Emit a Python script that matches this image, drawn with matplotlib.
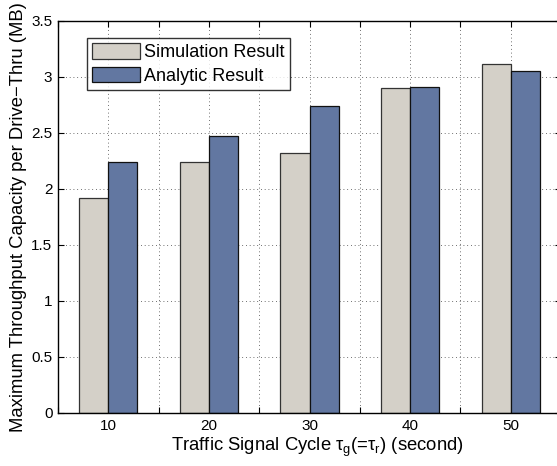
import matplotlib
matplotlib.use("Agg")
import matplotlib.pyplot as plt
import numpy as np

cycles = [10, 20, 30, 40, 50]
sim_result = [1.92, 2.24, 2.32, 2.90, 3.12]
analytic_result = [2.24, 2.47, 2.74, 2.91, 3.05]
xtick_positions = [5, 10, 15, 20, 25, 30, 35, 40, 45, 50, 55]
xtick_labels = ["", "10", "", "20", "", "30", "", "40", "", "50", ""]
ytick_positions = [0, 0.5, 1, 1.5, 2, 2.5, 3, 3.5]
ytick_labels = ["0", "0.5", "1", "1.5", "2", "2.5", "3", "3.5"]

plt.rcParams['font.family'] = ['Liberation Sans', 'DejaVu Sans']
plt.rcParams['mathtext.fontset'] = 'custom'
plt.rcParams['mathtext.rm'] = 'Liberation Sans'
plt.rcParams['mathtext.it'] = 'Liberation Sans'

fig = plt.figure(figsize=(5.57, 4.66), dpi=100)
ax = fig.add_axes([58/557, 1-413/466, 503/557, (413-21)/466])

w = 2.9
x = np.array(cycles, dtype=float)
ax.bar(x - w/2, sim_result, width=w, color='#d4d0c8', edgecolor='#333333',
       linewidth=0.9, label='Simulation Result', zorder=2)
ax.bar(x + w/2, analytic_result, width=w, color='#6277a1', edgecolor='#111111',
       linewidth=0.9, label='Analytic Result', zorder=2)

ax.set_xlim(5, 55)
ax.set_ylim(0, 3.5)
ax.set_xticks(xtick_positions)
ax.set_xticklabels(xtick_labels)
ax.set_yticks(ytick_positions)
ax.set_yticklabels(ytick_labels)
ax.tick_params(direction='in', length=4, width=0.8, top=True, right=True,
               labelsize=11, pad=4)
ax.grid(True, linestyle=(0, (1, 3.5)), color='0.25', linewidth=0.6, zorder=0)
ax.set_axisbelow(True)
for s in ax.spines.values():
    s.set_linewidth(1.0)
ax.spines['right'].set_visible(False)

ax.set_xlabel(r'Traffic Signal Cycle $\tau_{g}$(=$\tau_{r}$) (second)', fontsize=13.3)
ax.xaxis.set_label_coords((317 - 58) / 503, -0.058)
ax.set_ylabel('Maximum Throughput Capacity per Drive\u2212Thru (MB)', fontsize=13.3, labelpad=3)

leg = ax.legend(loc='upper left', bbox_to_anchor=(29/503, (413-38)/392), fontsize=13,
                frameon=True, fancybox=False, edgecolor='black', borderpad=0.3,
                handlelength=2.65, handleheight=0.95, handletextpad=0.2,
                labelspacing=0.3, borderaxespad=0)
leg.get_frame().set_linewidth(1.0)

fig.savefig('out.png', dpi=100)
